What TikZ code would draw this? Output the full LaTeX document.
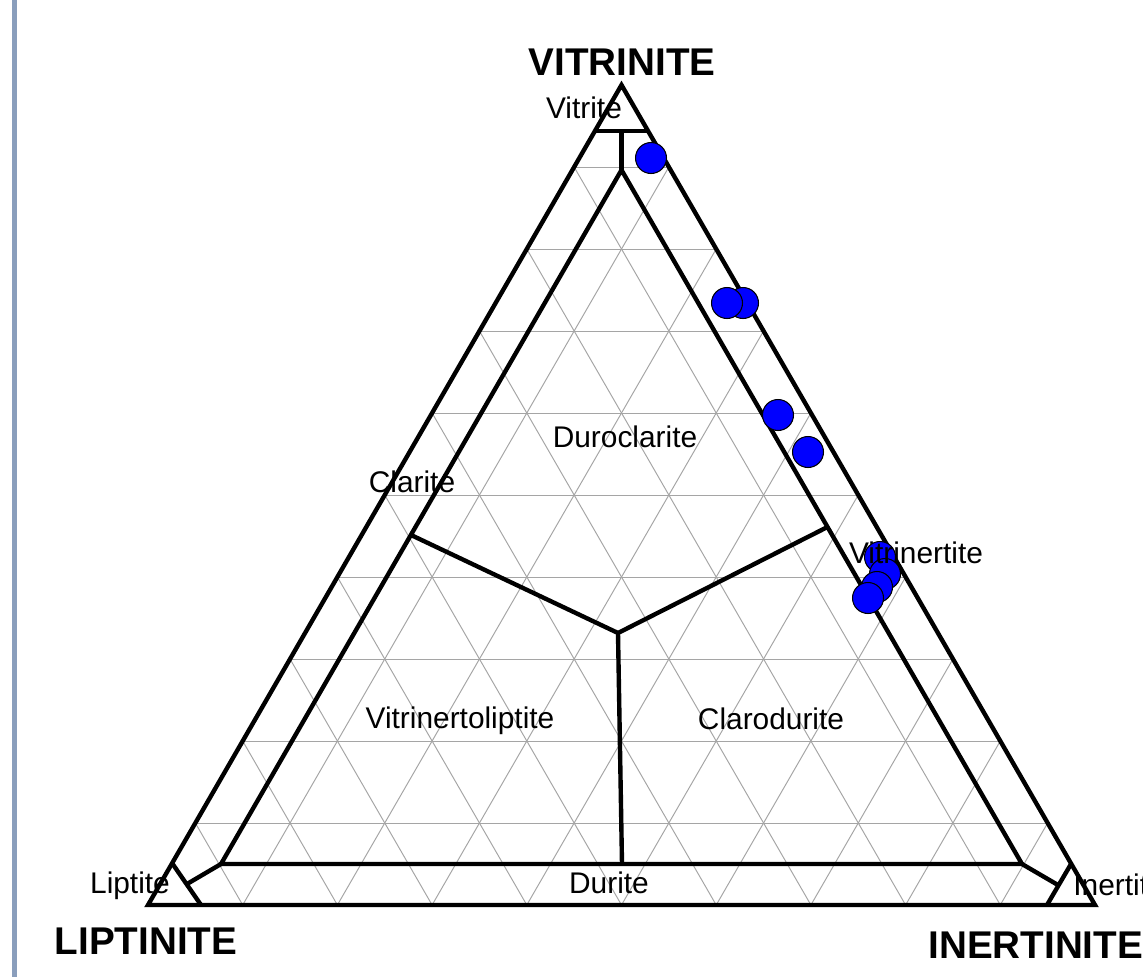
\documentclass[tikz,border=0pt]{standalone}
\usepackage{fontspec}
\setmainfont{Liberation Sans}
\usepackage{tikz}
\usetikzlibrary{calc}
\definecolor{BarBlue}{RGB}{138, 158, 188}
\definecolor{GridGray}{RGB}{165, 165, 165}
\definecolor{DotBlue}{RGB}{0, 0, 255}

\begin{document}
\begin{tikzpicture}[
    x=0.02cm, y=-0.02cm,
    gridline/.style={draw=GridGray, line width=0.55pt},
    frameline/.style={draw=black, line width=2.5pt},
    dot/.style={fill=DotBlue, draw=black, line width=0.6pt},
    lbl/.style={font=\fontsize{17}{20}\selectfont, anchor=base, inner sep=0pt},
    corner/.style={font=\fontsize{22}{26}\selectfont\bfseries, inner sep=0pt},
  ]
  \useasboundingbox (0,0) rectangle (1143,977);
  \fill[white] (0,0) rectangle (1143,977);
  % left edge bar
  \fill[BarBlue] (11.5,0) rectangle (16.5,977);

  % corners of the ternary plot
  \coordinate (L) at (148,905);
  \coordinate (I) at (1095,905);
  \coordinate (V) at (621.5,85);

  % 10 % grid
  \foreach \k in {1,...,9} {
    \draw[gridline] ($(L)!0.\k!(V)$) -- ($(I)!0.\k!(V)$);
    \draw[gridline] ($(L)!0.\k!(I)$) -- ($(V)!0.\k!(I)$);
    \draw[gridline] ($(I)!0.\k!(L)$) -- ($(V)!0.\k!(L)$);
  }

  % class boundaries
  \coordinate (vtL) at (595,131);
  \coordinate (vtR) at (648,131);
  \coordinate (vtM) at (621.5,131);
  \coordinate (inV) at (621.5,170);
  \coordinate (inL) at (221,864);
  \coordinate (inI) at (1022,864);
  \coordinate (lpV) at (172,863);
  \coordinate (lpI) at (201,905);
  \coordinate (lpM) at (187,884);
  \coordinate (itV) at (1071,864);
  \coordinate (itL) at (1047,905);
  \coordinate (itM) at (1058,885);
  \coordinate (cen) at (618,633);
  \coordinate (yL) at (411,535);
  \coordinate (yR) at (827.5,527);
  \coordinate (yB) at (622,864);

  \draw[frameline] (L) -- (I) -- (V) -- cycle;
  \draw[frameline] (inL) -- (inI) -- (inV) -- cycle;
  \draw[frameline] (vtL) -- (vtR);
  \draw[frameline] (vtM) -- (inV);
  \draw[frameline] (lpV) -- (lpI);
  \draw[frameline] (lpM) -- (inL);
  \draw[frameline] (itV) -- (itL);
  \draw[frameline] (itM) -- (inI);
  \draw[frameline] (yL) -- (cen) -- (yR);
  \draw[frameline] (cen) -- (yB);

  % samples
  \foreach \px/\py in {651/158, 743/303, 727/303, 778/415, 808/452,
                       880/557, 885/574, 877/587, 868/598}
    \draw[dot] (\px,\py) circle[radius=0.31cm];

  % labels
  \node[corner] (tV) at (622,62) {VITRINITE};
  \node[corner] (tL) at (146,941) {LIPTINITE};
  \node[corner, anchor=west] (tI) at (928,945) {INERTINITE};
  \node[lbl] (lVt) at (584,118) {Vitrite};
  \node[lbl] (lLp) at (130,893) {Liptite};
  \node[lbl, anchor=base west] (lIt) at (1073,895) {Inertite};
  \node[lbl] (lDc) at (625,447) {Duroclarite};
  \node[lbl] (lCl) at (412,492) {Clarite};
  \node[lbl] (lVi) at (916,563) {Vitrinertite};
  \node[lbl] (lVl) at (460,728) {Vitrinertoliptite};
  \node[lbl] (lCd) at (771,729) {Clarodurite};
  \node[lbl] (lDu) at (609,893) {Durite};
\end{tikzpicture}
\end{document}
